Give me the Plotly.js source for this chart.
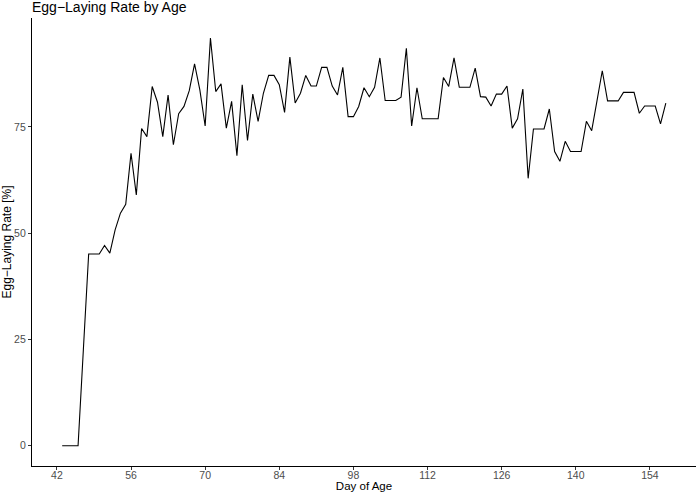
<!DOCTYPE html>
<html>
<head>
<meta charset="utf-8">
<script src="https://cdn.plot.ly/plotly-3.0.1.min.js"></script>
<style>
html,body{margin:0;padding:0;background:#fff;}
#chart{width:699px;height:492px;}
</style>
</head>
<body>
<div id="chart"></div>
<script>
const startDay = 43;
const layingRate = [
  0, 0, 0, 0, 22.6, 45.1, 45.1, 45.1, 47.1, 45.3,
  50.8, 54.7, 56.8, 68.8, 59.0, 74.6, 72.7, 84.5, 80.8, 72.7,
  82.5, 70.8, 78.1, 79.8, 83.5, 89.8, 83.7, 75.2, 95.9, 83.3,
  85.1, 74.7, 81.0, 68.2, 84.9, 71.8, 82.7, 76.3, 82.9, 87.1,
  87.1, 84.9, 78.4, 91.4, 80.6, 82.9, 87.1, 84.6, 84.6, 89.0,
  89.0, 84.6, 82.5, 89.0, 77.4, 77.4, 79.8, 84.2, 82.1, 84.3,
  91.2, 81.2, 81.2, 81.2, 82.0, 93.5, 75.2, 84.2, 76.9, 76.9,
  76.9, 76.9, 86.6, 84.5, 91.2, 84.3, 84.3, 84.3, 88.8, 82.1,
  82.0, 79.9, 82.7, 82.7, 84.6, 74.7, 76.9, 83.9, 62.9, 74.5,
  74.5, 74.5, 79.2, 69.2, 66.9, 71.6, 69.2, 69.2, 69.2, 76.3,
  74.1, 81.1, 88.2, 81.1, 81.1, 81.1, 83.1, 83.1, 83.1, 78.2,
  79.9, 79.9, 79.9, 75.7, 80.6
];
const days = layingRate.map((_, i) => startDay + i);
const xTicks = [42, 56, 70, 84, 98, 112, 126, 140, 154];
const yTicks = [0, 25, 50, 75];

const font = "Liberation Sans, Arial, sans-serif";

Plotly.newPlot('chart', [{
  x: days,
  y: layingRate,
  type: 'scatter',
  mode: 'lines',
  line: {color: '#000000', width: 1.1},
  hoverinfo: 'skip'
}], {
  width: 699, height: 492,
  margin: {l: 32, r: 3, t: 18, b: 26, pad: 0},
  paper_bgcolor: '#ffffff',
  plot_bgcolor: '#ffffff',
  showlegend: false,
  font: {family: font, color: '#000000'},
  title: {
    text: 'Egg\u2212Laying Rate by Age',
    font: {family: font, size: 14, color: '#000000'},
    x: 0, xref: 'paper', xanchor: 'left',
    y: 0.985, yref: 'container', yanchor: 'middle'
  },
  xaxis: {
    range: [37.3, 162.7],
    tickvals: xTicks,
    ticktext: xTicks.map(String),
    ticks: 'outside', ticklen: 3, tickwidth: 1, tickcolor: '#333333',
    ticklabelstandoff: -4,
    tickfont: {family: font, size: 10.5, color: '#4d4d4d'},
    showline: true, linecolor: '#000000', linewidth: 1.1,
    showgrid: false, zeroline: false,
    title: {text: 'Day of Age', font: {family: font, size: 11.5, color: '#000000'}, standoff: 8}
  },
  yaxis: {
    range: [-4.75, 100.6],
    tickvals: yTicks,
    ticktext: yTicks.map(String),
    ticks: 'outside', ticklen: 3, tickwidth: 1, tickcolor: '#333333',
    tickfont: {family: font, size: 10.5, color: '#4d4d4d'},
    showline: true, linecolor: '#000000', linewidth: 1.1,
    showgrid: false, zeroline: false,
    title: {text: 'Egg\u2212Laying Rate [%]', font: {family: font, size: 12, color: '#000000'}, standoff: 4}
  }
}, {staticPlot: true});
</script>
</body>
</html>
